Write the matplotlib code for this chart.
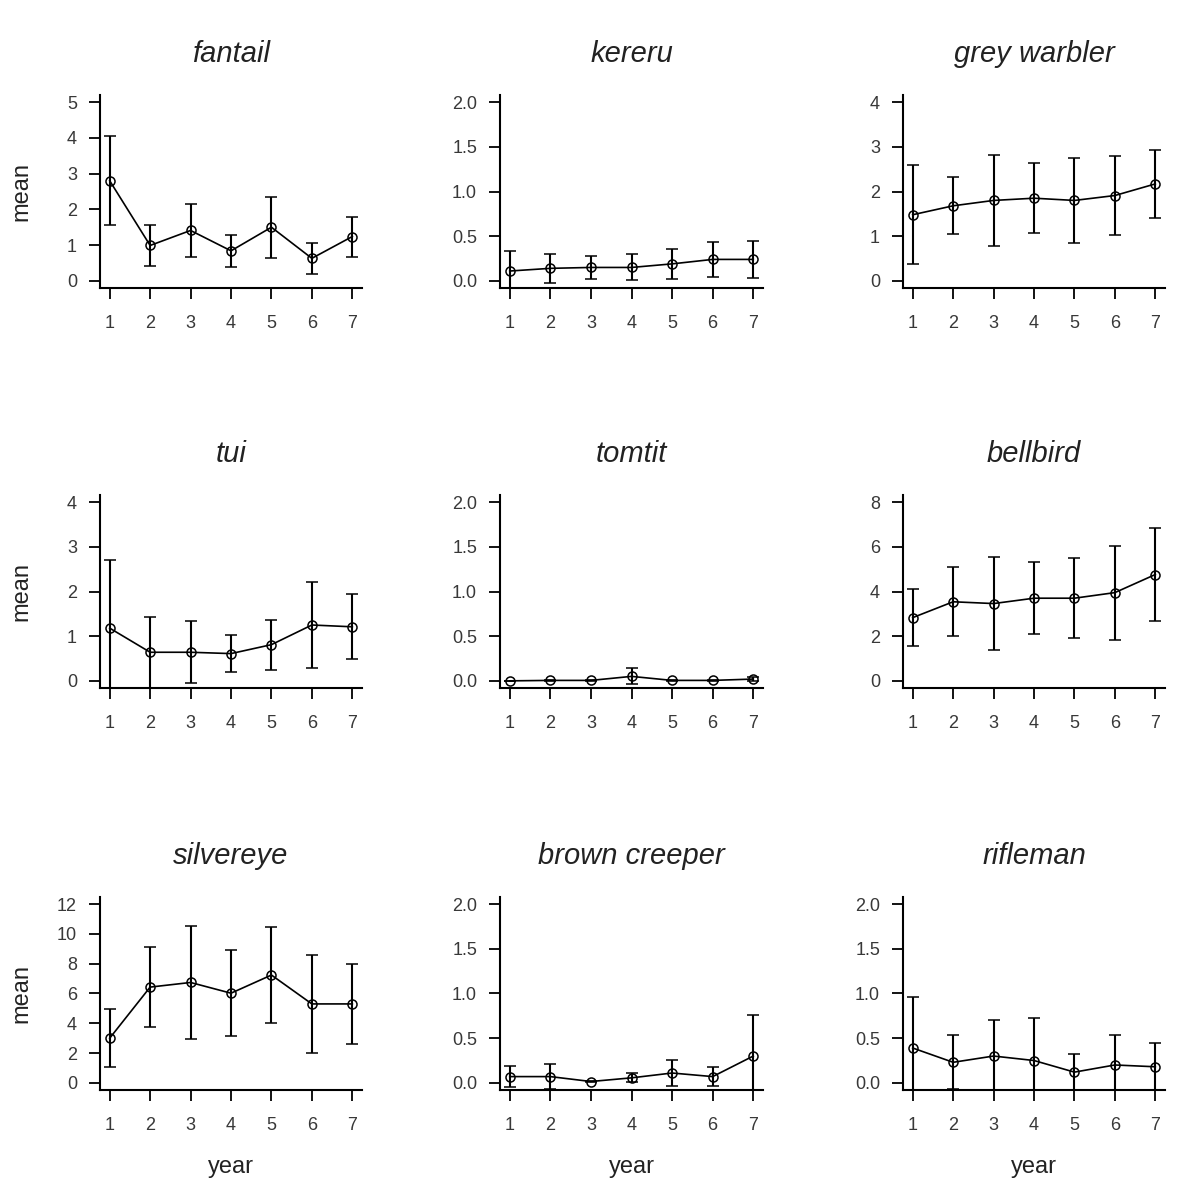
import matplotlib
matplotlib.use("Agg")
import matplotlib.pyplot as plt
import numpy as np

plt.rcParams['font.family'] = ['Liberation Sans', 'DejaVu Sans']

years = [1, 2, 3, 4, 5, 6, 7]
species = ["fantail", "kereru", "grey warbler",
           "tui", "tomtit", "bellbird",
           "silvereye", "brown creeper", "rifleman"]

# means per species
fantail_mean = [2.80, 0.99, 1.41, 0.84, 1.50, 0.63, 1.24]
kereru_mean = [0.11, 0.14, 0.15, 0.15, 0.19, 0.24, 0.24]
greywarbler_mean = [1.48, 1.68, 1.80, 1.85, 1.80, 1.91, 2.17]
tui_mean = [1.18, 0.64, 0.64, 0.61, 0.81, 1.25, 1.21]
tomtit_mean = [0.0, 0.005, 0.005, 0.05, 0.005, 0.005, 0.02]
bellbird_mean = [2.83, 3.54, 3.46, 3.70, 3.70, 3.95, 4.76]
silvereye_mean = [3.0, 6.43, 6.74, 6.02, 7.24, 5.30, 5.30]
browncreeper_mean = [0.07, 0.07, 0.015, 0.056, 0.11, 0.07, 0.30]
rifleman_mean = [0.39, 0.23, 0.30, 0.25, 0.12, 0.20, 0.18]

# half-widths of error bars
fantail_err = [1.25, 0.57, 0.75, 0.45, 0.85, 0.44, 0.56]
kereru_err = [0.22, 0.16, 0.125, 0.145, 0.17, 0.20, 0.21]
greywarbler_err = [1.11, 0.64, 1.01, 0.79, 0.95, 0.88, 0.76]
tui_err = [1.53, 0.79, 0.69, 0.42, 0.56, 0.97, 0.73]
tomtit_err = [0.0, 0.01, 0.01, 0.09, 0.01, 0.01, 0.02]
bellbird_err = [1.28, 1.55, 2.10, 1.60, 1.80, 2.10, 2.10]
silvereye_err = [1.95, 2.70, 3.80, 2.90, 3.20, 3.30, 2.70]
browncreeper_err = [0.12, 0.14, 0.01, 0.05, 0.15, 0.11, 0.46]
rifleman_err = [0.57, 0.30, 0.40, 0.48, 0.20, 0.33, 0.27]

means = [fantail_mean, kereru_mean, greywarbler_mean,
         tui_mean, tomtit_mean, bellbird_mean,
         silvereye_mean, browncreeper_mean, rifleman_mean]
errs = [fantail_err, kereru_err, greywarbler_err,
        tui_err, tomtit_err, bellbird_err,
        silvereye_err, browncreeper_err, rifleman_err]

# y tick sets
yticks_list = [
    [0, 1, 2, 3, 4, 5], [0.0, 0.5, 1.0, 1.5, 2.0], [0, 1, 2, 3, 4],
    [0, 1, 2, 3, 4], [0.0, 0.5, 1.0, 1.5, 2.0], [0, 2, 4, 6, 8],
    [0, 2, 4, 6, 8, 10, 12], [0.0, 0.5, 1.0, 1.5, 2.0], [0.0, 0.5, 1.0, 1.5, 2.0],
]
ytick_labels = [
    ["0", "1", "2", "3", "4", "5"], ["0.0", "0.5", "1.0", "1.5", "2.0"], ["0", "1", "2", "3", "4"],
    ["0", "1", "2", "3", "4"], ["0.0", "0.5", "1.0", "1.5", "2.0"], ["0", "2", "4", "6", "8"],
    ["0", "2", "4", "6", "8", "10", "12"], ["0.0", "0.5", "1.0", "1.5", "2.0"], ["0.0", "0.5", "1.0", "1.5", "2.0"],
]

W, H = 1204, 1196
fig = plt.figure(figsize=(W / 100, H / 100), dpi=100)
fig.patch.set_facecolor("white")

col_left = [100, 500, 903]
col_right = [362, 763, 1165]
row_top = [95, 495, 897]
row_bot = [288, 688, 1090]

textc = "#222222"
tickc = "#383838"
for i in range(9):
    r, c = divmod(i, 3)
    left = col_left[c] / W
    width = (col_right[c] - col_left[c]) / W
    bottom = 1 - row_bot[r] / H
    height = (row_bot[r] - row_top[r]) / H
    ax = fig.add_axes([left, bottom, width, height])
    m = np.array(means[i])
    e = np.array(errs[i])
    ax.errorbar(years, m, yerr=e, fmt="-o", color="black", lw=1.2,
                elinewidth=1.5, capsize=4.5, capthick=1.5,
                mfc="none", mec="black", ms=6.5, mew=1.1)
    ymax = yticks_list[i][-1]
    ax.set_ylim(-0.04 * ymax, 1.04 * ymax)
    ax.set_xlim(0.76, 7.24)
    ax.set_xticks(years)
    ax.set_xticklabels([str(y) for y in years])
    ax.set_yticks(yticks_list[i])
    ax.set_yticklabels(ytick_labels[i])
    for s in ["top", "right"]:
        ax.spines[s].set_visible(False)
    for s in ["left", "bottom"]:
        ax.spines[s].set_linewidth(1.5)
    ax.tick_params(axis="both", direction="out", width=1.3, labelsize=13,
                   labelcolor=tickc, color="black")
    ax.tick_params(axis="x", length=8.2, pad=11)
    ax.tick_params(axis="y", length=8.0, pad=8.5)
    ax.set_title(species[i], fontstyle="italic", fontsize=21, color=textc, pad=24)
    if c == 0:
        ax.set_ylabel("mean", fontsize=17, color=textc)
        ax.yaxis.set_label_coords(-0.30, 0.5)
        ax.yaxis.label.set_va("center")
    if r == 2:
        ax.set_xlabel("year", fontsize=17, color=textc)
        ax.xaxis.set_label_coords(0.5, -0.40)
        ax.xaxis.label.set_va("center")

fig.savefig("out.png", dpi=100)
